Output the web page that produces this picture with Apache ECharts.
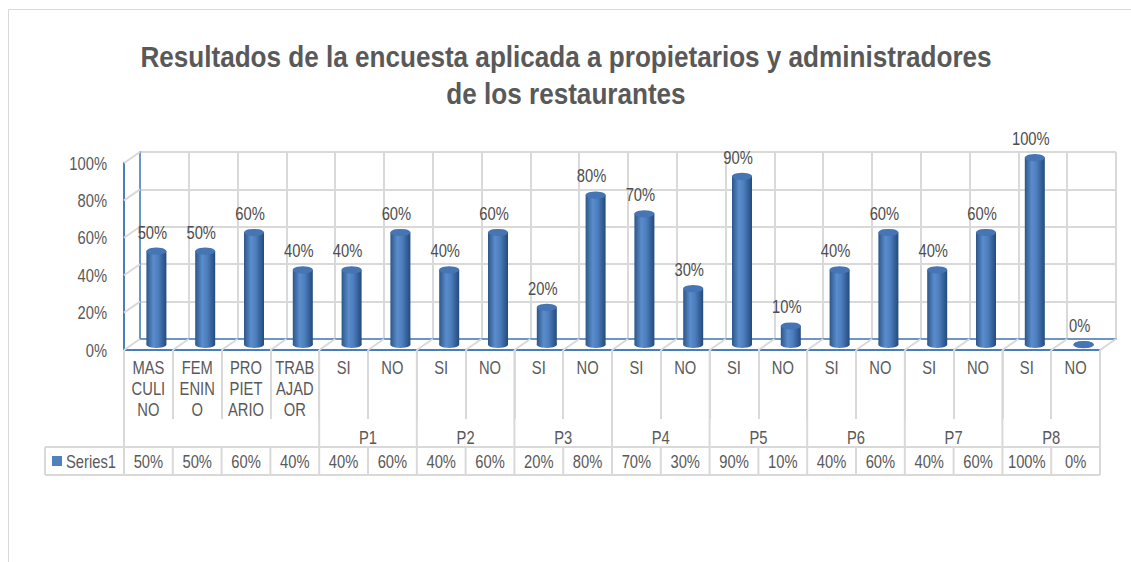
<!DOCTYPE html>
<html>
<head>
<meta charset="utf-8">
<script src="https://cdn.jsdelivr.net/npm/echarts@6/dist/echarts.min.js"></script>
<style>
  html, body { margin: 0; padding: 0; background: #fff; }
  #chart { width: 1131px; height: 562px; }
</style>
</head>
<body>
<div id="chart"></div>
<script>
// chart data
const titleLines = [
  'Resultados de la encuesta aplicada a propietarios y administradores',
  'de los restaurantes'
]
const categories = [
  'MAS\nCULI\nNO', 'FEM\nENIN\nO', 'PRO\nPIET\nARIO', 'TRAB\nAJAD\nOR',
  'SI', 'NO', 'SI', 'NO', 'SI', 'NO', 'SI', 'NO',
  'SI', 'NO', 'SI', 'NO', 'SI', 'NO', 'SI', 'NO'
]
const values = [0.5, 0.5, 0.6, 0.4, 0.4, 0.6, 0.4, 0.6, 0.2, 0.8, 0.7, 0.3, 0.9, 0.1, 0.4, 0.6, 0.4, 0.6, 1.0, 0]
const groupNames = ['P1', 'P2', 'P3', 'P4', 'P5', 'P6', 'P7', 'P8']
const groupStart = 4
const groupSize = 2
const seriesName = 'Series1'
const yMax = 1
const yStep = 0.2

// look
const FONT = "'Liberation Sans', Arial, sans-serif"
const NARROW = 0.82          // squeeze Liberation Sans to an Arial Narrow width
const TITLE_NARROW = 0.87
const TEXT = '#595959'
const LINE = '#D9D9D9'
const BLUE = '#4A7EBB'
const DEPTH_X = 16
const DEPTH_Y = -11
const FRONT = {left: 124, top: 163, width: 976, height: 187}
const TABLE = {left: 45, top: 447, bottom: 475, groupY: 437}
const BAR_W = 20

const pct = v => Math.round(v * 100) + '%'

const chart = echarts.init(document.getElementById('chart'), null, {renderer: 'svg'})

function gridAt(dx, dy) {
  return {left: FRONT.left + dx, top: FRONT.top + dy, width: FRONT.width, height: FRONT.height}
}

const cylinderFill = new echarts.graphic.LinearGradient(0, 0, 1, 0, [
  {offset: 0, color: '#2B5689'},
  {offset: 0.35, color: '#5B8DCC'},
  {offset: 0.6, color: '#4C7DBC'},
  {offset: 1, color: '#234A7C'}
])

function xAxisFor(gridIndex, extra) {
  return Object.assign({
    type: 'category',
    gridIndex: gridIndex,
    data: categories,
    axisLine: {show: false},
    axisTick: {show: false},
    axisLabel: {show: false},
    splitLine: {show: false}
  }, extra)
}

function yAxisFor(gridIndex, extra) {
  return Object.assign({
    type: 'value',
    gridIndex: gridIndex,
    min: 0,
    max: yMax,
    interval: yStep,
    axisLine: {show: false},
    axisTick: {show: false},
    axisLabel: {show: false},
    splitLine: {show: false}
  }, extra)
}

const option = {
  backgroundColor: '#fff',
  animation: false,
  grid: [
    gridAt(DEPTH_X / 2, DEPTH_Y / 2), // bars sit half way into the depth
    gridAt(DEPTH_X, DEPTH_Y),         // back wall
    gridAt(0, 0)                      // front axes
  ],
  xAxis: [
    xAxisFor(0),
    xAxisFor(1, {
      axisLine: {show: true, lineStyle: {color: BLUE, width: 1.5}},
      splitLine: {show: true, interval: 0, lineStyle: {color: LINE, width: 2}}
    }),
    xAxisFor(2, {
      axisLine: {show: true, lineStyle: {color: BLUE, width: 2}},
      axisTick: {show: true, interval: 0, length: 69, lineStyle: {color: LINE, width: 2}}
    })
  ],
  yAxis: [
    yAxisFor(0),
    yAxisFor(1, {
      axisLine: {show: true, lineStyle: {color: BLUE, width: 1.5}},
      splitLine: {show: true, lineStyle: {color: LINE, width: 2}}
    }),
    yAxisFor(2, {
      axisLine: {show: true, lineStyle: {color: BLUE, width: 2}}
    })
  ],
  series: [
    {
      name: seriesName + ' base',
      type: 'pictorialBar',
      xAxisIndex: 0, yAxisIndex: 0,
      data: values,
      symbol: 'circle',
      symbolSize: [BAR_W, 7],
      symbolOffset: [0, '50%'],
      itemStyle: {color: cylinderFill},
      z: 2
    },
    {
      name: seriesName,
      type: 'bar',
      xAxisIndex: 0, yAxisIndex: 0,
      data: values,
      barWidth: BAR_W,
      itemStyle: {color: cylinderFill},
      z: 3
    },
    {
      name: seriesName + ' cap',
      type: 'pictorialBar',
      xAxisIndex: 0, yAxisIndex: 0,
      data: values,
      symbol: 'circle',
      symbolPosition: 'end',
      symbolSize: [BAR_W, 7],
      symbolOffset: [0, '-50%'],
      itemStyle: {color: '#4575B4', borderColor: '#2D5A92', borderWidth: 0.6},
      z: 4
    },
    {
      // value labels, narrow type
      name: seriesName + ' labels',
      type: 'custom',
      xAxisIndex: 0, yAxisIndex: 0,
      data: values.map((v, i) => [i, v]),
      z: 5,
      renderItem: (params, api) => {
        const p = api.coord([api.value(0), api.value(1)])
        return {
          type: 'text',
          x: p[0] - 4,
          y: p[1] - 19,
          scaleX: NARROW,
          style: {
            text: pct(api.value(1)), align: 'center', verticalAlign: 'middle',
            font: '18px ' + FONT, fill: '#4D4D4D'
          }
        }
      }
    }
  ]
}

chart.setOption(option)

// 3D frame edges, axis texts and the data table, placed from the axes' own scales
function px(gridIndex, cat, val) {
  return chart.convertToPixel({gridIndex: gridIndex}, [cat, val])
}

const frontC0 = px(2, 0, 0)
const band = px(2, 1, 0)[0] - frontC0[0]
const backC0 = px(1, 0, 0)
const bxF = k => frontC0[0] - band / 2 + k * band
const bxB = k => backC0[0] - band / 2 + k * band
const y0F = frontC0[1]
const y0B = backC0[1]

const lineEl = (x1, y1, x2, y2, color, width) => ({
  type: 'line',
  silent: true,
  z: 1,
  shape: {x1: x1, y1: y1, x2: x2, y2: y2},
  style: {stroke: color || LINE, lineWidth: width || 2}
})

const textEl = (x, y, text, align, font, scale) => ({
  type: 'text',
  silent: true,
  x: x, y: y,
  scaleX: scale || NARROW,
  style: {
    text: text, align: align || 'center', verticalAlign: 'middle',
    font: font || ('18px ' + FONT), fill: TEXT
  }
})

const els = []

// outer chart border
els.push({
  type: 'rect', silent: true, z: 0,
  shape: {x: 8.5, y: 9.5, width: 1200, height: 700},
  style: {fill: null, stroke: LINE, lineWidth: 1}
})

// title
titleLines.forEach((t, i) => {
  els.push(textEl(566, 57 + i * 37, t, 'center', 'bold 30px ' + FONT, TITLE_NARROW))
})

// floor edges
for (let k = 0; k <= categories.length; k++) {
  els.push(lineEl(bxF(k), y0F, bxB(k), y0B))
}
// side wall edges and value axis labels
for (let v = 0; v <= yMax + 1e-9; v += yStep) {
  const yF = px(2, 0, v)[1]
  if (v > 0) els.push(lineEl(bxF(0), yF, bxB(0), px(1, 0, v)[1]))
  els.push(textEl(bxF(0) - 17, yF, pct(v), 'right'))
}

// category labels (three wrapped lines at most)
categories.forEach((c, i) => {
  c.split('\n').forEach((part, j) => {
    els.push(textEl(bxF(i + 0.5), y0F + 17 + j * 21, part))
  })
})

// group boundaries run down through the table
const groupBounds = [0, groupStart]
groupNames.forEach((g, i) => groupBounds.push(groupStart + (i + 1) * groupSize))
for (let k = 0; k <= categories.length; k++) {
  if (groupBounds.indexOf(k) >= 0) {
    els.push(lineEl(bxF(k), y0F, bxF(k), TABLE.bottom))
  } else {
    els.push(lineEl(bxF(k), TABLE.top, bxF(k), TABLE.bottom))
  }
}
// group labels
groupNames.forEach((g, i) => {
  const mid = groupStart + i * groupSize + groupSize / 2
  els.push(textEl(bxF(mid), TABLE.groupY, g))
})

// data table row
els.push(lineEl(TABLE.left, TABLE.top, bxF(categories.length), TABLE.top))
els.push(lineEl(TABLE.left, TABLE.bottom, bxF(categories.length), TABLE.bottom))
els.push(lineEl(TABLE.left, TABLE.top, TABLE.left, TABLE.bottom))
const rowY = (TABLE.top + TABLE.bottom) / 2
els.push({
  type: 'rect', silent: true,
  shape: {x: 52, y: rowY - 5, width: 10, height: 10},
  style: {fill: '#4F81BD'}
})
els.push(textEl(66, rowY, seriesName, 'left'))
values.forEach((v, i) => {
  els.push(textEl(bxF(i + 0.5), rowY, pct(v)))
})

chart.setOption({graphic: {elements: els}})
</script>
</body>
</html>
